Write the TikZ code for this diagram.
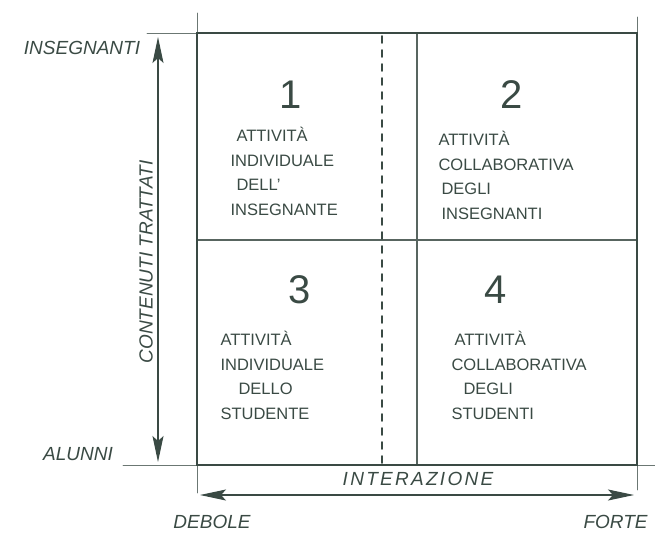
\documentclass[tikz,border=0pt]{standalone}
\usepackage{fontspec}
\setmainfont{Liberation Sans}
\usetikzlibrary{arrows.meta, positioning}
\definecolor{pencil}{RGB}{58,74,68}

\begin{document}
\begin{tikzpicture}[x=1pt, y=-1pt, line cap=round,
  frame/.style={draw=pencil, line width=2.8pt},
  guide/.style={draw=pencil!75, line width=0.7pt},
  split/.style={draw=pencil!85, line width=1.1pt},
  axis/.style={draw=pencil, line width=1.1pt,
    {Stealth[length=26pt,width=11pt,inset=5pt]}-{Stealth[length=26pt,width=11pt,inset=5pt]}},
  quadnum/.style={text=pencil, font=\fontsize{40}{40}\selectfont},
  quadtext/.style={text=pencil, anchor=north west, align=left, font=\fontsize{16.5}{24.5}\selectfont},
  axislabel/.style={text=pencil, font=\itshape\fontsize{19}{19}\selectfont}]

\useasboundingbox (0,0) rectangle (655,536);

% frame corners
\coordinate (nw) at (197,33);
\coordinate (ne) at (637,33);
\coordinate (sw) at (197,465);
\coordinate (se) at (637,465);

% thin construction lines
\coordinate (tl) at (147,33);
\coordinate (tu) at (197,13);
\coordinate (ru) at (637,17);
\coordinate (bl) at (123,465);
\coordinate (bd) at (197,493);
\coordinate (br) at (655,465);
\coordinate (rd) at (637,490);
\draw[guide] (tl) -- (nw);
\draw[guide] (tu) -- (nw);
\draw[guide] (ru) -- (ne);
\draw[guide] (bl) -- (sw);
\draw[guide] (bd) -- (sw);
\draw[guide] (br) -- (se);
\draw[guide] (rd) -- (se);

% quadrants
\coordinate (mt) at (417,33);
\coordinate (mb) at (417,465);
\coordinate (ml) at (197,240);
\coordinate (mr) at (637,240);
\coordinate (dt) at (382,36);
\coordinate (db) at (382,463);
\draw[split] (mt) -- (mb);
\draw[split] (ml) -- (mr);
\draw[draw=pencil, line width=1.8pt, dash pattern=on 7pt off 7pt] (dt) -- (db);
\draw[frame] (nw) rectangle (se);

% axes
\coordinate (vt) at (158,37);
\coordinate (vb) at (158,462);
\coordinate (hl) at (200,495);
\coordinate (hr) at (634,495);
\draw[axis] (vt) -- (vb);
\draw[axis] (hl) -- (hr);

\node[axislabel] (insegnanti) at (82,48) {INSEGNANTI};
\node[axislabel] (alunni) at (78,454) {ALUNNI};
\node[axislabel, rotate=90] (contenuti) at (146,262) {CONTENUTI TRATTATI};
\node[axislabel, font=\itshape\fontsize{19}{19}\selectfont\addfontfeatures{LetterSpace=12}] (interazione) at (418,479) {INTERAZIONE};
\node[axislabel] (debole) at (212,522) {DEBOLE};
\node[axislabel, anchor=west] (forte) at (580,522) {FORTE};

% quadrant contents
\node[quadnum] (n1) at (291,95) {1};
\node[quadnum] (n2) at (512,95) {2};
\node[quadnum] (n3) at (300,290) {3};
\node[quadnum] (n4) at (496,290) {4};

\node[quadtext] (t1) at (227,124) {\hspace*{6pt}ATTIVITÀ\\INDIVIDUALE\\\hspace*{6pt}DELL'\\INSEGNANTE};
\node[quadtext] (t2) at (435,128) {ATTIVITÀ\\COLLABORATIVA\\\hspace*{3pt}DEGLI\\\hspace*{3pt}INSEGNANTI};
\node[quadtext] (t3) at (217,328) {ATTIVITÀ\\INDIVIDUALE\\\hspace*{18pt}DELLO\\STUDENTE};
\node[quadtext] (t4) at (448,328) {\hspace*{3pt}ATTIVITÀ\\COLLABORATIVA\\\hspace*{12pt}DEGLI\\STUDENTI};

\end{tikzpicture}
\end{document}
